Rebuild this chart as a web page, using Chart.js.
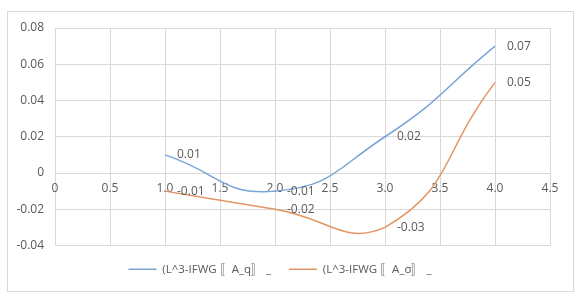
<!DOCTYPE html>
<html>
<head>
<meta charset="utf-8">
<script src="https://cdn.jsdelivr.net/npm/chart.js@4"></script>
<style>
  html, body { margin: 0; padding: 0; background: #fff; }
  #wrap { width: 580px; height: 300px; }
</style>
</head>
<body>
<div id="wrap"><canvas id="chart" width="580" height="300"></canvas></div>
<script>
// values
const xValues = [1, 2, 3, 4];
const seriesQ = [0.01, -0.01, 0.02, 0.07];
const seriesSigma = [-0.01, -0.02, -0.03, 0.05];
const seriesNames = ['(L^3-IFWG \u301AA_q\u301B _', '(L^3-IFWG \u301AA_\u03c3\u301B _'];
const xTicks = [0, 0.5, 1, 1.5, 2, 2.5, 3, 3.5, 4, 4.5];
const yTicks = [-0.04, -0.02, 0, 0.02, 0.04, 0.06, 0.08];

const BLUE = '#78A5D8';
const ORANGE = '#E39462';
const TEXT = '#595959';
const FONT = "'Open Sans', 'Liberation Sans', sans-serif";

const toPoints = (ys) => xValues.map((x, i) => ({ x: x, y: ys[i] }));

// outer frame like the Excel chart area
const framePlugin = {
  id: 'frame',
  beforeDraw(chart) {
    const ctx = chart.ctx;
    ctx.save();
    ctx.fillStyle = '#fff';
    ctx.fillRect(0, 0, chart.width, chart.height);
    ctx.strokeStyle = '#D9D9D9';
    ctx.lineWidth = 1;
    ctx.strokeRect(7.5, 11.5, 566, 280);
    ctx.restore();
  }
};

// value labels to the right of each point
const labelPlugin = {
  id: 'valueLabels',
  afterDatasetsDraw(chart) {
    const ctx = chart.ctx;
    ctx.save();
    ctx.font = '12px ' + FONT;
    ctx.fillStyle = TEXT;
    ctx.textAlign = 'left';
    ctx.textBaseline = 'middle';
    chart.data.datasets.forEach((ds, di) => {
      const meta = chart.getDatasetMeta(di);
      meta.data.forEach((pt, i) => {
        ctx.fillText(String(ds.data[i].y), pt.x + 12, pt.y);
      });
    });
    ctx.restore();
  }
};

new Chart(document.getElementById('chart'), {
  type: 'scatter',
  data: {
    datasets: [
      {
        label: seriesNames[0],
        data: toPoints(seriesQ),
        showLine: true,
        borderColor: BLUE,
        backgroundColor: BLUE,
        borderWidth: 1.5,
        pointRadius: 0,
        tension: 0.5
      },
      {
        label: seriesNames[1],
        data: toPoints(seriesSigma),
        showLine: true,
        borderColor: ORANGE,
        backgroundColor: ORANGE,
        borderWidth: 1.5,
        pointRadius: 0,
        tension: 0.5
      }
    ]
  },
  options: {
    responsive: false,
    animation: false,
    layout: { padding: { left: 10, right: 30, top: 28, bottom: 15 } },
    scales: {
      x: {
        type: 'linear',
        min: 0,
        max: 4.5,
        position: { y: 0 },
        afterBuildTicks: (axis) => { axis.ticks = xTicks.map(v => ({ value: v })); },
        grid: { color: '#D9D9D9', drawTicks: false },
        border: { display: true, color: '#D9D9D9' },
        ticks: { color: TEXT, font: { family: FONT, size: 12 }, padding: 8, maxRotation: 0 }
      },
      y: {
        min: -0.04,
        max: 0.08,
        afterBuildTicks: (axis) => { axis.ticks = yTicks.map(v => ({ value: v })); },
        afterFit: (axis) => { axis.width = 45; },
        grid: { color: '#D9D9D9', drawTicks: false },
        border: { display: false },
        ticks: {
          color: TEXT,
          font: { family: FONT, size: 12 },
          padding: 11,
          callback: (v) => (v === 0 ? '0' : Number(v).toFixed(2))
        }
      }
    },
    plugins: {
      legend: {
        position: 'bottom',
        labels: {
          color: TEXT,
          font: { family: FONT, size: 11.5 },
          usePointStyle: true,
          pointStyle: 'line',
          pointStyleWidth: 28,
          padding: 18
        }
      },
      tooltip: { enabled: false }
    }
  },
  plugins: [framePlugin, labelPlugin]
});
</script>
</body>
</html>
